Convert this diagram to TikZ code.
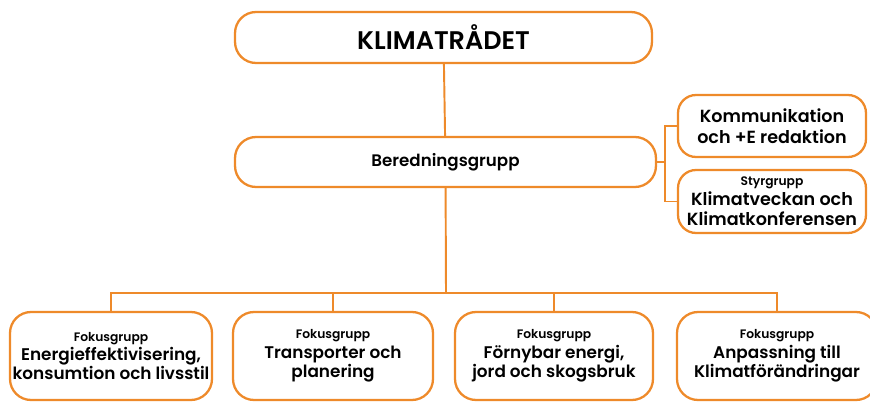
\documentclass[tikz,border=0pt]{standalone}
\usepackage{fontspec}
\setmainfont{Poppins}[BoldFont={Poppins SemiBold}]
\definecolor{klimorange}{RGB}{238,138,42}
\begin{document}
\begin{tikzpicture}[x=0.02cm,y=-0.02cm,
	box/.style={draw=klimorange,line width=1.3pt,rounded corners=0.42cm,align=center,inner sep=0pt,font=\bfseries},
	link/.style={draw=klimorange,line width=1.1pt}]
	\useasboundingbox (0,0) rectangle (870,403);
	% top
	\node [box,minimum width=8.34cm,minimum height=1.02cm,font=\bfseries\fontsize{14.5}{18}\selectfont] (rad) at (443.5,37.5) {KLIMATRÅDET};
	\node [box,minimum width=8.42cm,minimum height=1.0cm,font=\bfseries\fontsize{9.5}{11}\selectfont] (bered) at (445.5,162) {Beredningsgrupp};
	% right side
	\node [box,minimum width=3.76cm,minimum height=1.24cm,rounded corners=0.36cm,font=\bfseries\fontsize{10}{12}\selectfont] (komm) at (772,126) {Kommunikation\\och +E redaktion};
	\node [box,minimum width=3.76cm,minimum height=1.26cm,rounded corners=0.36cm,font=\bfseries\fontsize{10}{11.5}\selectfont] (styr) at (772,201.5) {{\fontsize{7}{9}\selectfont Styrgrupp}\\Klimatveckan och\\Klimatkonferensen};
	% fokusgrupper
	\node [box,minimum width=4.04cm,minimum height=1.76cm,font=\bfseries\fontsize{9.6}{11}\selectfont] (fok1) at (111,356) {{\fontsize{7}{10}\selectfont Fokusgrupp}\\Energieffektivisering,\\konsumtion och livsstil};
	\node [box,minimum width=4.0cm,minimum height=1.76cm,font=\bfseries\fontsize{9.6}{11}\selectfont] (fok2) at (333,356) {{\fontsize{7}{10}\selectfont Fokusgrupp}\\Transporter och\\planering};
	\node [box,minimum width=3.96cm,minimum height=1.76cm,font=\bfseries\fontsize{9.6}{11}\selectfont] (fok3) at (554,356) {{\fontsize{7}{10}\selectfont Fokusgrupp}\\Förnybar energi,\\jord och skogsbruk};
	\node [box,minimum width=4.0cm,minimum height=1.76cm,font=\bfseries\fontsize{9.6}{11}\selectfont] (fok4) at (777,356) {{\fontsize{7}{10}\selectfont Fokusgrupp}\\Anpassning till\\Klimatförändringar};
	\coordinate (bus) at (446,293);
	\coordinate (rbus) at (665,162);
	% connectors
	\draw [link] (rad) -- (bered);
	\draw [link] (bered) -- (bus);
	\draw [link] (fok1.north) |- (bus) -| (fok4.north);
	\draw [link] (fok2.north) -- (fok2.north |- bus);
	\draw [link] (fok3.north) -- (fok3.north |- bus);
	\draw [link] (bered.east) -- (rbus);
	\draw [link] (komm.west) -| (rbus) |- (styr.west);
\end{tikzpicture}
\end{document}
